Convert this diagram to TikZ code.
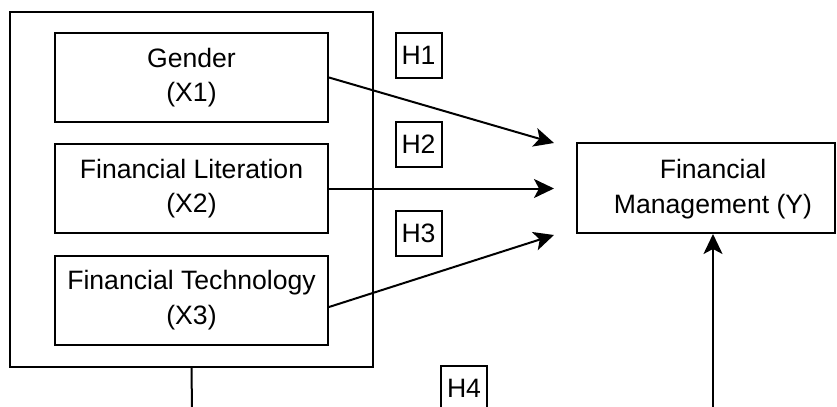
\documentclass[tikz,border=0pt]{standalone}
\usepackage{fontspec}
\setmainfont{Liberation Sans}
\usetikzlibrary{arrows.meta,positioning}
\newlength\pxunit
\setlength\pxunit{0.5pt}

\begin{document}
\begin{tikzpicture}[x=\pxunit,y=-\pxunit,line width=1pt,
  font=\fontsize{13.3}{17.2}\selectfont,
  varbox/.style={draw,minimum width=273\pxunit,minimum height=89\pxunit,inner sep=0pt,align=center},
  hbox/.style={draw,minimum width=46\pxunit,minimum height=45\pxunit,inner sep=0pt},
  link/.style={-{Stealth[length=10pt,width=9.5pt,inset=2.5pt]}}]
%page frame
\path[use as bounding box,clip] (0,0) rectangle (837,407);
%Independent variables
\node[draw,minimum width=363\pxunit,minimum height=355\pxunit,inner sep=0pt] (grp) at (191.5,189) {};
\node[varbox] (x1) at (191.5,77.5) {Gender\\(X1)};
\node[varbox] (x2) at (191.5,188.5) {Financial Literation\\(X2)};
\node[varbox] (x3) at (191.5,300) {Financial Technology\\(X3)};
%Dependent variable
\node[draw,minimum width=258\pxunit,minimum height=90\pxunit,inner sep=0pt] (y) at (706,188) {};
\node[align=center] (ytext) at (713,189) {Financial\\Management (Y)};
%Hypotheses
\foreach \n/\x/\y in {1/418.5/55.5,2/418.5/144.5,3/418.5/233,4/464/388.5}
  \node[hbox] (h\n) at (\x,\y) {H\n};
%Arrow ends
\coordinate (e1) at (554,143);
\coordinate (e2) at (554,188.5);
\coordinate (e3) at (554,235);
\draw[link] (x1.east) -- (e1);
\draw[link] (x2.east) -- (e2);
\draw[link] ([yshift=-3.5pt]x3.east) -- (e3);
%H4 path, runs off the bottom
\coordinate (b1) at (192,410);
\coordinate (b2) at (713,410);
\draw (grp.south) -- (b1);
\draw[link] (b2) -- (ytext |- y.south);
\end{tikzpicture}
\end{document}
